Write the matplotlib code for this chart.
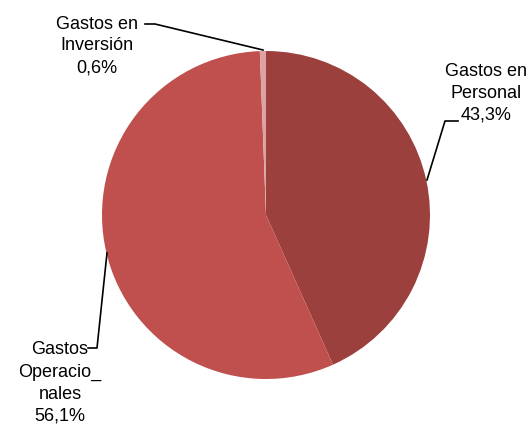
import matplotlib.pyplot as plt

# data
categorias = ["Gastos en\nPersonal", "Gastos\nOperacio_\nnales", "Gastos en\nInversión"]
valores = [43.3, 56.1, 0.6]
etiquetas = ["43,3%", "56,1%", "0,6%"]
colores = ["#9C403D", "#C0504D", "#DCA3A2"]

plt.rcParams['font.family'] = ["Liberation Sans", "DejaVu Sans"]

fig = plt.figure(figsize=(5.31, 4.30), dpi=100)
ax = fig.add_axes([0, 0, 1, 1])

H = 430
cx, cy, r = 266, H - 215, 164
ax.pie(valores, colors=colores, startangle=90, counterclock=False,
       center=(cx, cy), radius=r, frame=True,
       wedgeprops=dict(edgecolor='none', linewidth=0))
ax.set_xlim(0, 531)
ax.set_ylim(0, 430)
ax.set_aspect('equal')
ax.axis('off')

fs = 13
ls = 1.38
# Personal
ax.text(486, H - 93, categorias[0] + "\n" + etiquetas[0], ha='center', va='center',
        fontsize=fs, linespacing=ls)
ax.plot([458, 445, 427], [H - 121, H - 121, H - 180], color='black', lw=1.2)
# Operacionales
ax.text(60, H - 383, categorias[1] + "\n" + etiquetas[1], ha='center', va='center',
        fontsize=fs, linespacing=ls)
ax.plot([88, 97, 107], [H - 348, H - 348, H - 253], color='black', lw=1.2)
# Inversion
ax.text(97, H - 46, categorias[2] + "\n" + etiquetas[2], ha='center', va='center',
        fontsize=fs, linespacing=ls)
ax.plot([145, 155, 263], [H - 24, H - 24, H - 50], color='black', lw=1.2)

fig.savefig("out.png", dpi=100)
